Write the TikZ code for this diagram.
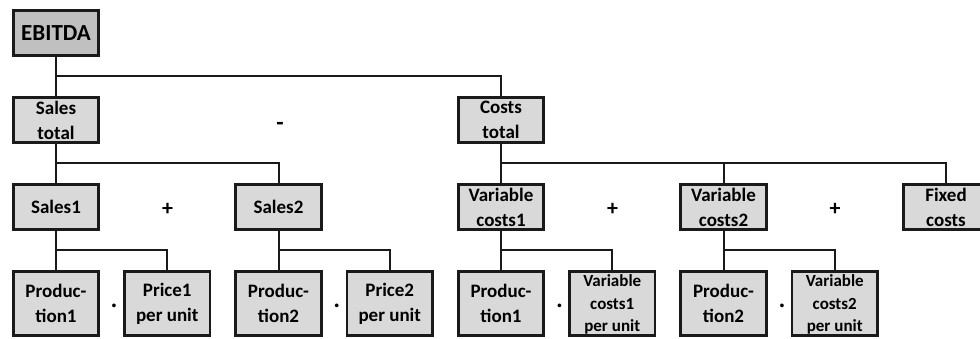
\documentclass[tikz,border=0pt]{standalone}
\usepackage{fontspec}
\setmainfont{Carlito}
\definecolor{linecol}{HTML}{1A1A1A}
\definecolor{boxlight}{HTML}{D9D9D9}
\definecolor{boxdark}{HTML}{C0C0C0}
\begin{document}
\begin{tikzpicture}[x=1pt,y=-1pt,
  box/.style={draw=linecol, line width=2.6pt, fill=boxlight,
    minimum width=85.5pt, minimum height=45.5pt, inner sep=0pt,
    align=center, font=\fontsize{19}{25}\selectfont\bfseries},
  tallbox/.style={box, minimum height=64.5pt},
  smalltext/.style={font=\fontsize{17}{22.5}\selectfont\bfseries, text depth=0pt},
  conn/.style={draw=linecol, line width=2pt},
  op/.style={font=\fontsize{22}{22}\selectfont\bfseries, inner sep=0pt},
  dotop/.style={font=\fontsize{20}{20}\selectfont\bfseries, inner sep=0pt}
]
\useasboundingbox (0,0) rectangle (980,338);
\clip (0,0) rectangle (980,338);

% level 0
\node[box, fill=boxdark, font=\fontsize{23}{28}\selectfont\bfseries] (ebitda) at (56,33) {EBITDA};

% level 1
\node[box] (salestot) at (56,120) {Sales\\total};
\node[box] (coststot) at (501,120) {Costs\\total};

% level 2
\node[box] (sales1) at (56,207) {Sales1};
\node[box] (sales2) at (278.5,207) {Sales2};
\node[box] (var1)   at (501,207) {Variable\\costs1};
\node[box] (var2)   at (723.5,207) {Variable\\costs2};
\node[box] (fixed)  at (946,207) {Fixed\\costs};

% level 3
\node[tallbox] (prod1)  at (56,303.5)    {Produc-\\tion1};
\node[tallbox] (price1) at (167.25,303.5) {Price1\\per unit};
\node[tallbox] (prod2)  at (278.5,303.5)  {Produc-\\tion2};
\node[tallbox] (price2) at (389.75,303.5) {Price2\\per unit};
\node[tallbox] (prod3)  at (501,303.5)    {Produc-\\tion1};
\node[tallbox, smalltext] (vcu1) at (612.25,303.5) {Variable\\costs1\\per unit};
\node[tallbox] (prod4)  at (723.5,303.5)  {Produc-\\tion2};
\node[tallbox, smalltext] (vcu2) at (834.75,303.5) {Variable\\costs2\\per unit};

% branch points
\coordinate (s0) at (56,76);
\coordinate (s1) at (56,163);
\coordinate (s2) at (501,163);
\coordinate (s3) at (56,250);
\coordinate (s4) at (278.5,250);
\coordinate (s5) at (501,250);
\coordinate (s6) at (723.5,250);

% connectors
\draw[conn] (ebitda.south) -- (salestot.north);
\draw[conn] (s0) -| (coststot.north);

\draw[conn] (salestot.south) -- (sales1.north);
\draw[conn] (s1) -| (sales2.north);

\draw[conn] (coststot.south) -- (var1.north);
\draw[conn] (s2) -| (fixed.north);
\draw[conn] (var2.north) -- (var2.north |- s2);

\draw[conn] (sales1.south) -- (prod1.north);
\draw[conn] (s3) -| (price1.north);
\draw[conn] (sales2.south) -- (prod2.north);
\draw[conn] (s4) -| (price2.north);
\draw[conn] (var1.south) -- (prod3.north);
\draw[conn] (s5) -| (vcu1.north);
\draw[conn] (var2.south) -- (prod4.north);
\draw[conn] (s6) -| (vcu2.north);

% operators
\node[op, font=\fontsize{24}{24}\selectfont\bfseries] (minus) at (280,126) {-};
\node[op] (plus1) at (167.5,209) {+};
\node[op] (plus2) at (612.5,209) {+};
\node[op] (plus3) at (835,209) {+};
\node[dotop] (dot1) at (114,308) {·};
\node[dotop] (dot2) at (336.7,308) {·};
\node[dotop] (dot3) at (559.5,308) {·};
\node[dotop] (dot4) at (782,308) {·};
\end{tikzpicture}
\end{document}
